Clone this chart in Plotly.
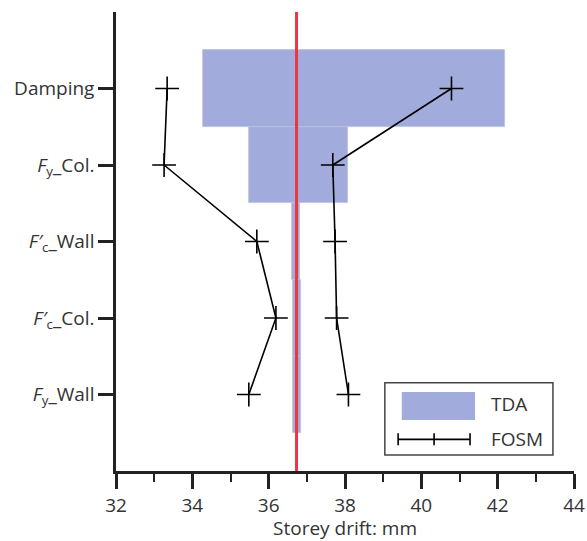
import plotly.graph_objects as go

# Parameters (bottom to top)
categories = ["Fy_Wall", "Fc_Col", "Fc_Wall", "Fy_Col", "Damping"]
tick_labels = [
    "<i>F</i><sub>y</sub>_Wall",
    "<i>F′</i><sub>c</sub>_Col.",
    "<i>F′</i><sub>c</sub>_Wall",
    "<i>F</i><sub>y</sub>_Col.",
    "Damping",
]
y_pos = [0, 1, 2, 3, 4]

# TDA tornado bars (low / high storey drift, mm)
tda_low = [36.65, 36.65, 36.60, 35.49, 34.27]
tda_high = [36.86, 36.86, 36.82, 38.09, 42.19]

# FOSM estimates (low / high storey drift, mm)
fosm_low = [35.48, 36.19, 35.69, 33.26, 33.34]
fosm_high = [38.09, 37.78, 37.74, 37.68, 40.79]

# Base (deterministic) storey drift, mm
base_drift = 36.73

x_ticks = [32, 34, 36, 38, 40, 42, 44]
legend_names = ["TDA", "FOSM"]

FONT = "Open Sans, Noto Sans, sans-serif"
BAR_COLOR = "rgb(162,172,220)"
TEXT_COLOR = "#333333"
AXIS_COLOR = "#222222"

fig = go.Figure()

fig.add_trace(go.Bar(
    y=y_pos,
    x=[h - l for h, l in zip(tda_high, tda_low)],
    base=tda_low,
    orientation="h",
    width=1.0,
    marker=dict(color=BAR_COLOR, line=dict(color="rgb(190,194,212)", width=0.8)),
    name=legend_names[0],
    showlegend=False,
))

for xs in (fosm_low, fosm_high):
    fig.add_trace(go.Scatter(
        x=xs, y=y_pos,
        mode="lines+markers",
        line=dict(color="black", width=1.6),
        marker=dict(symbol="cross-thin", size=17, line=dict(color="black", width=1.6)),
        name=legend_names[1],
        showlegend=False,
    ))

fig.update_layout(
    width=587, height=541,
    margin=dict(l=116, r=13, t=12, b=70),
    paper_bgcolor="white",
    plot_bgcolor="white",
    font=dict(family=FONT, size=18, color=TEXT_COLOR),
    bargap=0,
    showlegend=False,
    xaxis=dict(
        range=[32, 44],
        tickvals=x_ticks,
        ticks="outside", ticklen=15, tickwidth=2.5, tickcolor=AXIS_COLOR,
        minor=dict(dtick=1, tick0=32, ticks="outside", ticklen=8, tickwidth=2, tickcolor=AXIS_COLOR),
        showline=True, linecolor=AXIS_COLOR, linewidth=2.5,
        showgrid=False, zeroline=False,
        automargin=False,
        title=dict(text="Storey drift: mm", font=dict(size=19, color=TEXT_COLOR), standoff=2),
        tickfont=dict(size=19, color=TEXT_COLOR),
    ),
    yaxis=dict(
        range=[-1, 5],
        tickvals=y_pos,
        ticktext=tick_labels,
        ticks="outside", ticklen=15, tickwidth=2.5, tickcolor=AXIS_COLOR,
        showline=True, linecolor=AXIS_COLOR, linewidth=2.5,
        showgrid=False, zeroline=False,
        automargin=False,
        tickfont=dict(size=19, color=TEXT_COLOR),
    ),
)

# Base drift line
fig.add_vline(x=base_drift, line=dict(color="rgb(235,55,65)", width=3), layer="above")

# Legend (drawn in paper coordinates to match the reference's large swatch)
fig.add_shape(type="rect", xref="paper", yref="paper", x0=0.587, x1=0.954, y0=0.035, y1=0.192,
              line=dict(color="#444444", width=1.5), fillcolor="white", layer="above")
fig.add_shape(type="rect", xref="paper", yref="paper", x0=0.624, x1=0.784, y0=0.111, y1=0.172,
              line=dict(width=0), fillcolor=BAR_COLOR, layer="above")
fig.add_shape(type="line", xref="paper", yref="paper", x0=0.616, x1=0.773, y0=0.069, y1=0.069,
              line=dict(color="black", width=1.6), layer="above")
for px in (0.616, 0.6945, 0.773):
    fig.add_shape(type="line", xref="paper", yref="paper", x0=px, x1=px, y0=0.056, y1=0.082,
                  line=dict(color="black", width=1.6), layer="above")

fig.add_annotation(text=legend_names[0], xref="paper", yref="paper", x=0.815, y=0.146,
                   xanchor="left", yanchor="middle", showarrow=False,
                   font=dict(size=19, color=TEXT_COLOR))
fig.add_annotation(text=legend_names[1], xref="paper", yref="paper", x=0.815, y=0.069,
                   xanchor="left", yanchor="middle", showarrow=False,
                   font=dict(size=19, color=TEXT_COLOR))

fig.write_html(
    "out.html",
    config={"displayModeBar": False},
    post_script="document.body.style.margin='0';document.body.style.overflow='hidden';",
)
